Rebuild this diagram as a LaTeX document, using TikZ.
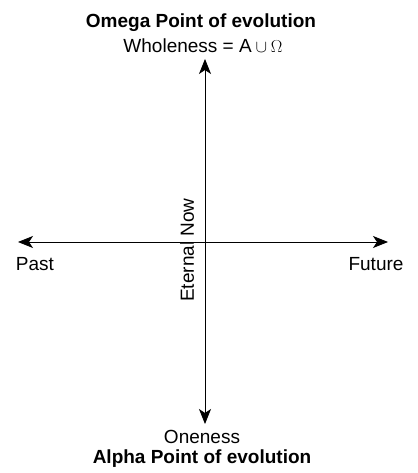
\documentclass[tikz,border=0pt]{standalone}
\usepackage{fontspec}
\setmainfont{Liberation Sans}
\usetikzlibrary{arrows.meta}
\begin{document}
\begin{tikzpicture}[x=1pt, y=1pt, font=\fontsize{19}{22}\selectfont, line join=round, >={Stealth[length=15pt,width=12pt,inset=4pt]}]
	\def\xmin{-187} \def\xmax{183}
	\def\ymin{-182} \def\ymax{183}
	\useasboundingbox (-205,-231) rectangle (212,242);
	% axis ends
	\coordinate (past) at (\xmin,0);
	\coordinate (future) at (\xmax,0);
	\coordinate (alpha) at (0,\ymin);
	\coordinate (omega) at (0,\ymax);
	\draw[<->, line width=.9pt] (past)--(future);
	\draw[<->, line width=.9pt] (alpha)--(omega);
	% labels
	\node[anchor=base] (omegatitle) at (-4,214) {\bfseries Omega Point of evolution};
	\node[anchor=base] (whole) at (-2,189) {Wholeness = $\mathrm{A}\cup\Omega$};
	\node[anchor=base] (pastlbl) at (-170,-29) {Past};
	\node[anchor=base] (futurelbl) at (171,-29) {Future};
	\node[rotate=90] (now) at (-18,-8) {Eternal Now};
	\node[anchor=base] (one) at (-3,-201) {Oneness};
	\node[anchor=base] (alphatitle) at (-3,-221) {\bfseries Alpha Point of evolution};
\end{tikzpicture}
\end{document}
